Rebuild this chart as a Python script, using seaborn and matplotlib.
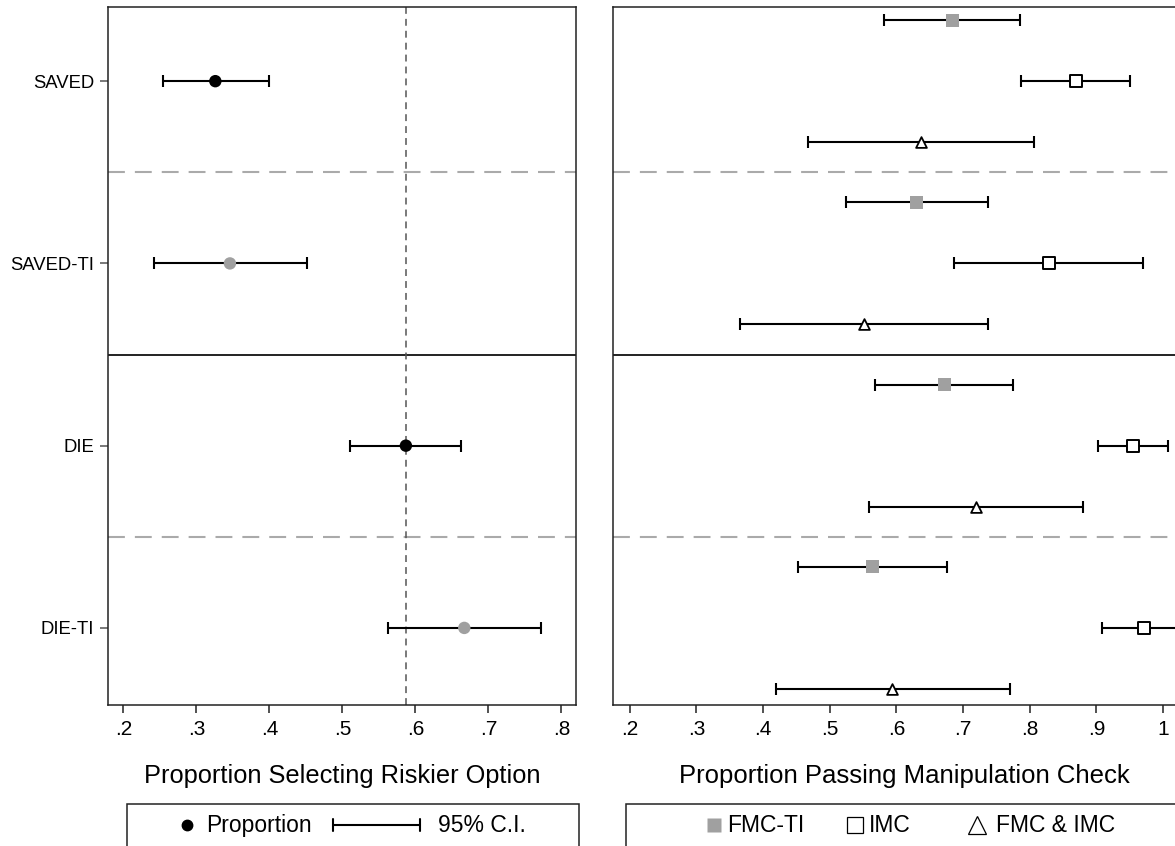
import matplotlib
matplotlib.use("Agg")
import matplotlib.pyplot as plt
from matplotlib.lines import Line2D
from matplotlib.patches import Rectangle
import seaborn as sns
import pandas as pd
import numpy as np

# left panel: proportion selecting riskier option
conds = ["SAVED", "SAVED-TI", "DIE", "DIE-TI"]
risk_pt = [0.326, 0.346, 0.587, 0.667]
risk_lo = [0.254, 0.242, 0.510, 0.562]
risk_hi = [0.399, 0.451, 0.663, 0.772]
ref_line = 0.587

# right panel: proportion passing manipulation check
fmcti_pt = [0.684, 0.630, 0.672, 0.564]
fmcti_lo = [0.581, 0.524, 0.568, 0.452]
fmcti_hi = [0.785, 0.737, 0.775, 0.676]
imc_pt = [0.869, 0.829, 0.955, 0.971]
imc_lo = [0.787, 0.687, 0.902, 0.909]
imc_hi = [0.951, 0.970, 1.008, 1.032]
both_pt = [0.637, 0.552, 0.720, 0.594]
both_lo = [0.467, 0.365, 0.559, 0.419]
both_hi = [0.806, 0.738, 0.880, 0.770]

left_ticks = [0.2, 0.3, 0.4, 0.5, 0.6, 0.7, 0.8]
left_ticklabels = [".2", ".3", ".4", ".5", ".6", ".7", ".8"]
right_ticks = [0.2, 0.3, 0.4, 0.5, 0.6, 0.7, 0.8, 0.9, 1.0]
right_ticklabels = [".2", ".3", ".4", ".5", ".6", ".7", ".8", ".9", "1"]

sns.set_style("ticks")
plt.rcParams['font.family'] = ['Liberation Sans', 'DejaVu Sans']
plt.rcParams['text.color'] = 'black'
plt.rcParams['axes.labelcolor'] = 'black'
plt.rcParams['xtick.labelcolor'] = 'black'
plt.rcParams['ytick.labelcolor'] = 'black'

GRAY = "#a0a0a0"
DARK = "#222222"

fig = plt.figure(figsize=(11.75, 8.46), dpi=100)
axL = fig.add_axes([108/1175, 1-705/846, 468/1175, 698/846])
axR = fig.add_axes([613/1175, 1-705/846, 583.5/1175, 698/846])

ypos = np.arange(len(conds))
left = pd.DataFrame({"cond": conds, "y": ypos, "pt": risk_pt, "lo": risk_lo, "hi": risk_hi,
                     "ti": ["no", "yes", "no", "yes"]})


def frame(ax, xlim, ticks, labels):
    ax.set_xlim(*xlim)
    ax.set_ylim(3.423, -0.407)
    for s in ax.spines.values():
        s.set_color(DARK)
        s.set_linewidth(1.1)
    ax.set_xticks(ticks)
    ax.set_xticklabels(labels, fontsize=15)
    ax.tick_params(axis="x", length=6, width=1.1, color=DARK, pad=5)
    for b in [0.5, 2.5]:
        ax.axhline(b, color="#aaaaaa", lw=1.5, ls=(0, (8.1, 4.8)), zorder=1)
    ax.axhline(1.5, color=DARK, lw=1.4, zorder=1)


frame(axL, (0.179, 0.820), left_ticks, left_ticklabels)
frame(axR, (0.175, 1.05), right_ticks, right_ticklabels)

# left panel marks
axL.axvline(ref_line, color="#555555", lw=1.1, ls=(0, (4.5, 3.3)), zorder=1)
axL.errorbar(left["pt"], left["y"], xerr=[left["pt"] - left["lo"], left["hi"] - left["pt"]],
             fmt="none", ecolor="black", elinewidth=1.5, capsize=4.5, capthick=1.5, zorder=2)
sns.scatterplot(data=left, x="pt", y="y", hue="ti", palette={"no": "black", "yes": GRAY},
                s=80, edgecolor="none", legend=False, ax=axL, zorder=3)
axL.set_yticks(ypos)
axL.set_yticklabels(conds, fontsize=13.3)
axL.tick_params(axis="y", length=6, width=1.1, color="#555555", pad=4)
axL.set_xlabel("Proportion Selecting Riskier Option", fontsize=18.3, labelpad=18)
axL.set_ylabel("")

# right panel marks
off = 0.335
series = [
    (fmcti_pt, fmcti_lo, fmcti_hi, -off, dict(marker="s", color=GRAY, edgecolor="none", s=85)),
    (imc_pt, imc_lo, imc_hi, 0.0, dict(marker="s", facecolor="white", edgecolor="black", linewidth=1.4, s=65)),
    (both_pt, both_lo, both_hi, off, dict(marker="^", facecolor="white", edgecolor="black", linewidth=1.3, s=60)),
]
for pt, lo, hi, dy, kw in series:
    d = pd.DataFrame({"pt": pt, "lo": lo, "hi": hi, "y": ypos + dy})
    axR.errorbar(d["pt"], d["y"], xerr=[d["pt"] - d["lo"], d["hi"] - d["pt"]],
                 fmt="none", ecolor="black", elinewidth=1.5, capsize=4.5, capthick=1.5, zorder=2)
    sns.scatterplot(data=d, x="pt", y="y", legend=False, ax=axR, zorder=3, **kw)
axR.set_yticks([])
axR.set_ylabel("")
axR.set_xlabel("Proportion Passing Manipulation Check", fontsize=18.5, labelpad=18)

# legend boxes (clipped at the bottom edge like the original)
ly = 1 - 825/846
for x0, x1 in [(127, 579), (626, 1200)]:
    fig.add_artist(Rectangle((x0/1175, -0.05), (x1-x0)/1175, 0.05 + (846-804)/846,
                             transform=fig.transFigure, fill=False, edgecolor=DARK, lw=1.1))

LFS = 16.5
fig.add_artist(Line2D([187/1175], [ly], marker="o", color="black", ms=7.5, ls="none",
                      transform=fig.transFigure))
fig.text(206/1175, ly, "Proportion", fontsize=LFS, va="center", ha="left")
fig.add_artist(Line2D([333/1175, 420/1175], [ly, ly], color="black", lw=1.5, transform=fig.transFigure))
for xe in [333, 420]:
    fig.add_artist(Line2D([xe/1175, xe/1175], [ly - 6/846, ly + 6/846], color="black", lw=1.5,
                          transform=fig.transFigure))
fig.text(438/1175, ly, "95% C.I.", fontsize=LFS, va="center", ha="left")

fig.add_artist(Line2D([713.5/1175], [ly], marker="s", color=GRAY, mec="none", ms=9.5, ls="none",
                      transform=fig.transFigure))
fig.text(727/1175, ly, "FMC-TI", fontsize=LFS, va="center", ha="left")
fig.add_artist(Line2D([854.5/1175], [ly], marker="s", mfc="white", mec="black", mew=0.9, ms=12, ls="none",
                      transform=fig.transFigure))
fig.text(869/1175, ly, "IMC", fontsize=LFS, va="center", ha="left")
fig.add_artist(Line2D([977/1175], [ly], marker="^", mfc="white", mec="black", mew=0.9, ms=13, ls="none",
                      transform=fig.transFigure))
fig.text(996/1175, ly, "FMC & IMC", fontsize=LFS, va="center", ha="left")

fig.savefig("out.png", dpi=100)
